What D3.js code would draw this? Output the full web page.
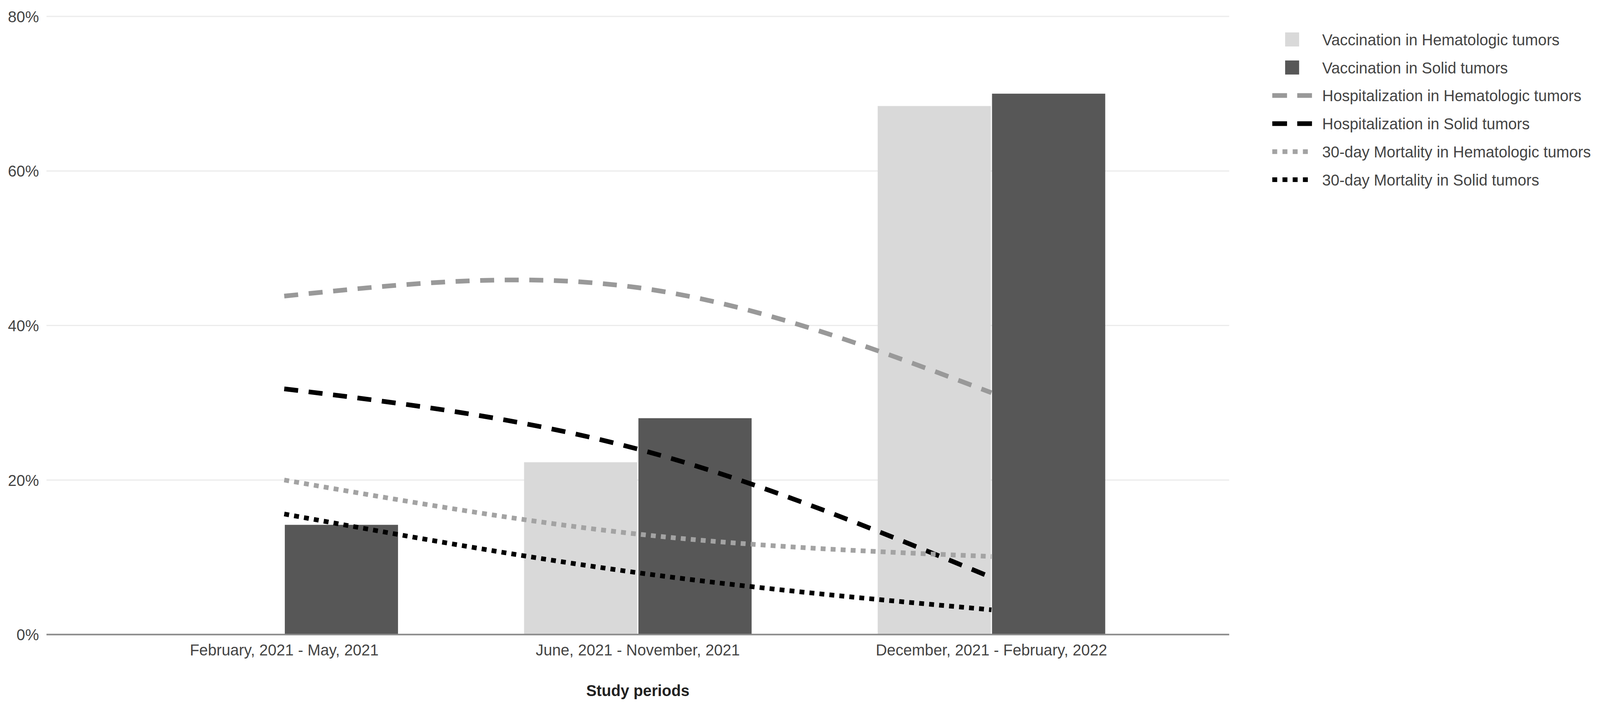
<!DOCTYPE html>
<html>
<head>
<meta charset="utf-8">
<script src="https://cdn.jsdelivr.net/npm/d3@7"></script>
<style>
  html, body { margin: 0; padding: 0; background: #fff; overflow: hidden; }
  svg { display: block; width: 100vw; height: 100vh; font-family: "Liberation Sans", Arial, sans-serif; }
</style>
</head>
<body>
<svg id="chart"></svg>
<script>
// ---- data (percent)
var periods = ["February, 2021 - May, 2021", "June, 2021 - November, 2021", "December, 2021 - February, 2022"]
var vacc_hematologic = [0, 22.3, 68.4]
var vacc_solid = [14.2, 28.0, 70.0]
var hosp_hematologic = [43.8, 44.9, 31.3]
var hosp_solid = [31.8, 24.0, 7.4]
var mort_hematologic = [20.0, 13.0, 10.1]
var mort_solid = [15.6, 8.0, 3.2]
var y_ticks = [0, 20, 40, 60, 80]
var legend_labels = ["Vaccination in Hematologic tumors", "Vaccination in Solid tumors",
    "Hospitalization in Hematologic tumors", "Hospitalization in Solid tumors",
    "30-day Mortality in Hematologic tumors", "30-day Mortality in Solid tumors"]

var W = 4233, H = 1810
var plot = { left: 123, right: 3252, top: 42, bottom: 1624.5 }

// drawn in a fixed 4233x1810 frame, scaled to whatever the viewport is
var svg = d3.select("#chart").attr("viewBox", "0 0 " + W + " " + H).attr("preserveAspectRatio", "none")

var xScale = d3.scaleBand().domain(periods).range([plot.left, plot.right]).paddingInner(0.3565).paddingOuter(0.3506)
var xSub = d3.scaleBand().domain(["hem", "solid"]).range([0, xScale.bandwidth()]).paddingInner(0.01)
var yScale = d3.scaleLinear().domain([0, 80]).range([plot.bottom, plot.top])

//------------- gridlines + y labels
svg.selectAll(".grid").data(y_ticks.filter(d => d > 0)).join("line").attr("class", "grid")
    .attr("x1", plot.left).attr("x2", plot.right)
    .attr("y1", d => yScale(d)).attr("y2", d => yScale(d))
    .attr("stroke", "#ebebeb").attr("stroke-width", 3)

svg.selectAll(".ylab").data(y_ticks).join("text").attr("class", "ylab")
    .attr("x", 103).attr("y", d => yScale(d)).attr("dy", "0.36em")
    .attr("text-anchor", "end").attr("font-size", 41).attr("fill", "#444")
    .text(d => d + "%")

//------------- bars
var bar_rows = periods.map((p, i) => [
    { period: p, key: "hem", v: vacc_hematologic[i], color: "#d9d9d9" },
    { period: p, key: "solid", v: vacc_solid[i], color: "#575757" }
]).flat()

svg.selectAll(".bar").data(bar_rows.filter(d => d.v > 0)).join("rect").attr("class", "bar")
    .attr("x", d => xScale(d.period) + xSub(d.key))
    .attr("width", xSub.bandwidth())
    .attr("y", d => yScale(d.v))
    .attr("height", d => yScale(0) - yScale(d.v))
    .attr("fill", d => d.color)

// baseline
svg.append("line").attr("x1", plot.left).attr("x2", plot.right)
    .attr("y1", yScale(0)).attr("y2", yScale(0))
    .attr("stroke", "#8a8a8a").attr("stroke-width", 4)

//------------- smooth lines
var line_series = [
    { vals: hosp_hematologic, color: "#999999", dash: "37,28" },
    { vals: hosp_solid, color: "#000000", dash: "37,28" },
    { vals: mort_hematologic, color: "#a3a3a3", dash: "13,13.5" },
    { vals: mort_solid, color: "#000000", dash: "13,13.5" }
]
var cx = p => xScale(p) + xScale.bandwidth() / 2
var lineGen = d3.line().curve(d3.curveNatural).x((d, i) => cx(periods[i])).y(d => yScale(d))

svg.selectAll(".trend").data(line_series).join("path").attr("class", "trend")
    .attr("d", d => lineGen(d.vals))
    .attr("fill", "none").attr("stroke", d => d.color)
    .attr("stroke-width", 12).attr("stroke-dasharray", d => d.dash)

//------------- x labels
svg.selectAll(".xlab").data(periods).join("text").attr("class", "xlab")
    .attr("x", d => cx(d)).attr("y", 1678)
    .attr("text-anchor", "middle").attr("font-size", 41).attr("fill", "#444")
    .text(d => d)

svg.append("text").attr("x", cx(periods[1])).attr("y", 1782)
    .attr("text-anchor", "middle").attr("font-size", 41).attr("font-weight", "bold").attr("fill", "#222")
    .text("Study periods")

//------------- legend
var legend_y = d3.scalePoint().domain(legend_labels).range([101, 460])
var legend_marks = [
    { type: "rect", color: "#d9d9d9" },
    { type: "rect", color: "#575757" },
    { type: "line", color: "#999999", dash: "39,27" },
    { type: "line", color: "#000000", dash: "39,27" },
    { type: "line", color: "#a3a3a3", dash: "13,14" },
    { type: "line", color: "#000000", dash: "13,14" }
]
var lg = svg.selectAll(".lg").data(legend_labels).join("g").attr("class", "lg")
    .attr("transform", d => "translate(0," + legend_y(d) + ")")
lg.each(function (d, i) {
    var m = legend_marks[i]
    var g = d3.select(this)
    if (m.type == "rect") {
        g.append("rect").attr("x", 3400).attr("y", -18).attr("width", 37).attr("height", 36).attr("fill", m.color)
    } else {
        g.append("line").attr("x1", 3366).attr("x2", 3472).attr("y1", 0).attr("y2", 0)
            .attr("stroke", m.color).attr("stroke-width", 12).attr("stroke-dasharray", m.dash)
    }
})
lg.append("text").attr("x", 3498).attr("dy", "0.36em").attr("font-size", 41).attr("fill", "#444").text(d => d)
</script>
</body>
</html>
